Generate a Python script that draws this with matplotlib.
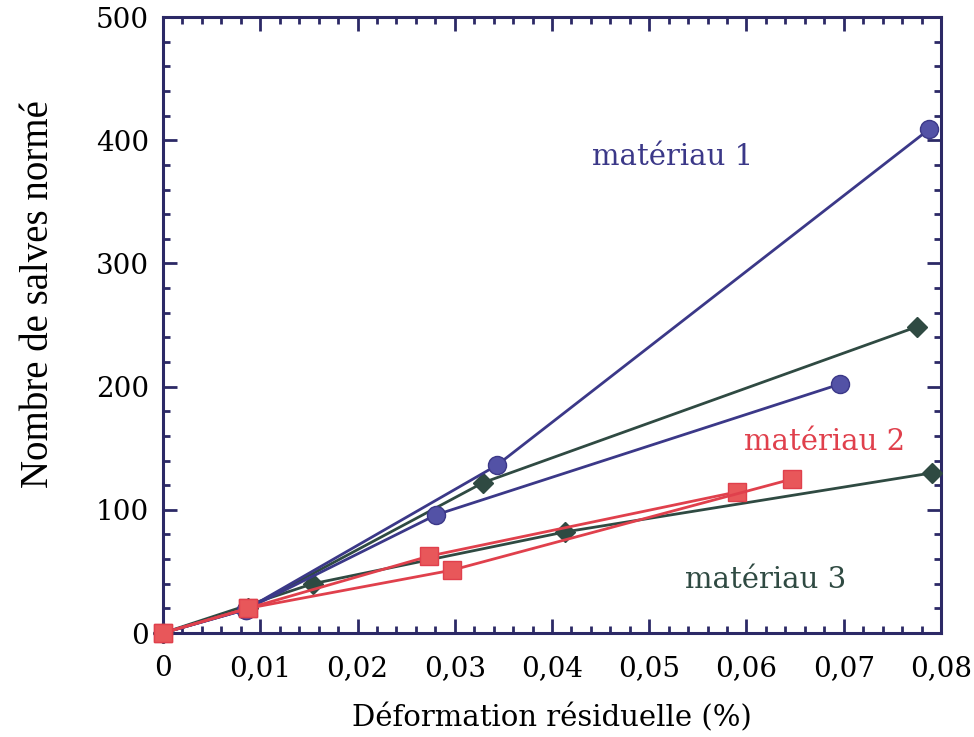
import numpy as np
import matplotlib
matplotlib.use('Agg')
import matplotlib.pyplot as plt
from matplotlib.ticker import MultipleLocator

# donnees lues sur la figure
# materiau 1 (cercles bleus)
m1a_x = [0, 0.0085, 0.0343, 0.0788]
m1a_y = [0, 19, 136, 409]
m1b_x = [0, 0.0085, 0.0281, 0.0696]
m1b_y = [0, 19, 96, 202]

# materiau 2 (carres rouges)
m2a_x = [0, 0.0087, 0.0274, 0.0590]
m2a_y = [0, 20, 62.5, 114.5]
m2b_x = [0, 0.0087, 0.0297, 0.0647]
m2b_y = [0, 20, 51, 125]

# materiau 3 (losanges verts)
m3a_x = [0, 0.0087, 0.0329, 0.0775]
m3a_y = [0, 20, 122, 248.5]
m3b_x = [0, 0.0154, 0.0413, 0.0791]
m3b_y = [0, 40, 82, 130]

xticks = [0, 0.01, 0.02, 0.03, 0.04, 0.05, 0.06, 0.07, 0.08]
xticklabels = ['0', '0,01', '0,02', '0,03', '0,04', '0,05', '0,06', '0,07', '0,08']
yticks = [0, 100, 200, 300, 400, 500]

c_blue = '#3b3888'
c_blue_mk = '#5352a6'
c_red = '#e0404c'
c_red_mk = '#e8575a'
c_green = '#2f4a42'
c_axis = '#2c2966'

plt.rcParams['font.family'] = 'DejaVu Serif'

fig = plt.figure(figsize=(9.74, 7.37), dpi=100)
ax = fig.add_axes([0.1674, 0.1411, 0.7987, 0.8358])

lw = 2.0
# vert en premier (dessous)
for xs, ys in [(m3a_x, m3a_y), (m3b_x, m3b_y)]:
    ax.plot(xs, ys, color=c_green, lw=lw, marker='D', ms=10,
            mfc=c_green, mec=c_green, clip_on=False, zorder=3)
for xs, ys in [(m1a_x, m1a_y), (m1b_x, m1b_y)]:
    ax.plot(xs, ys, color=c_blue, lw=lw, marker='o', ms=13,
            mfc=c_blue_mk, mec=c_blue, mew=1, clip_on=False, zorder=4)
for xs, ys in [(m2a_x, m2a_y), (m2b_x, m2b_y)]:
    ax.plot(xs, ys, color=c_red, lw=lw, marker='s', ms=13,
            mfc=c_red_mk, mec=c_red, mew=1, clip_on=False, zorder=5)

ax.text(0.0524, 386, 'matériau 1', color=c_blue, fontsize=21,
        ha='center', va='center')
ax.text(0.068, 155, 'matériau 2', color=c_red, fontsize=21,
        ha='center', va='center')
ax.text(0.062, 43, 'matériau 3', color=c_green, fontsize=21,
        ha='center', va='center')

ax.set_xlim(0, 0.08)
ax.set_ylim(0, 500)
ax.set_xticks(xticks)
ax.set_xticklabels(xticklabels)
ax.set_yticks(yticks)
ax.xaxis.set_minor_locator(MultipleLocator(0.002))
ax.yaxis.set_minor_locator(MultipleLocator(20))

ax.tick_params(which='both', direction='in', top=True, right=True,
               color=c_axis, labelsize=20, width=2)
ax.tick_params(axis='x', pad=16)
ax.tick_params(axis='y', pad=10)
ax.tick_params(which='major', length=10)
ax.tick_params(which='minor', length=5)
for s in ax.spines.values():
    s.set_color(c_axis)
    s.set_linewidth(2.2)

ax.set_xlabel('Déformation résiduelle (%)', fontsize=21, labelpad=15)
ax.set_ylabel('Nombre de salves normé', fontsize=28,
              family='Liberation Serif', labelpad=28, y=0.55)

fig.savefig('out.png', dpi=100)
